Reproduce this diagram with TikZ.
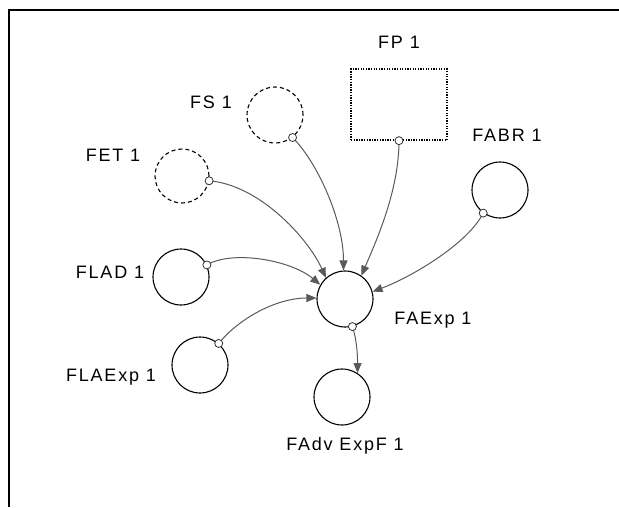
\documentclass[tikz,border=0pt]{standalone}
\usepackage{fontspec}
\setmainfont{Liberation Sans}[LetterSpace=10]
\usetikzlibrary{arrows.meta}
\definecolor{linkgray}{HTML}{5A5A5A}
\tikzset{
  var/.style={circle, draw=black, line width=1.1pt, minimum size=56pt, inner sep=0pt},
  ghost/.style={var, dash pattern=on 4pt off 3pt},
  param/.style={draw=black, line width=1.3pt, dash pattern=on 1.3pt off 1.3pt, minimum width=96pt, minimum height=71pt, inner sep=0pt},
  lbl/.style={font=\fontsize{18}{20}\selectfont, inner sep=0pt},
  handle/.style={circle, draw=black!80, fill=white, line width=0.8pt, minimum size=8pt, inner sep=0pt},
  link/.style={draw=linkgray, line width=1pt, -{Triangle[length=10pt,width=8pt]}, fill=none},
  frame/.style={line width=1.5pt, draw=black}
}
\begin{document}
\begin{tikzpicture}[x=1pt,y=-1pt]
\useasboundingbox (0,0) rectangle (619,507);
% frame
\coordinate (fbl) at (9,507);
\coordinate (ftl) at (9,10);
\coordinate (ftr) at (619,10);
\draw[frame] (fbl) -- (ftl) -- (ftr);
% nodes
\node[param] (FP) at (399,104.5) {};
\node[ghost] (FS) at (275,115) {};
\node[ghost, minimum size=54pt] (FET) at (182,176) {};
\node[var] (FABR) at (500,190) {};
\node[var] (FLAD) at (181,277) {};
\node[var] (FAExp) at (345,299) {};
\node[var] (FLAExp) at (200,365) {};
\node[var] (FAdv) at (342,397) {};
% labels
\node[lbl] (lFP) at (399,42) {FP 1};
\node[lbl] (lFS) at (211,102) {FS 1};
\node[lbl] (lFET) at (113,155) {FET 1};
\node[lbl] (lFABR) at (507,135) {FABR 1};
\node[lbl] (lFLAD) at (110,272) {FLAD 1};
\node[lbl] (lFAExp) at (433,320) {FAExp 1};
\node[lbl] (lFLAExp) at (111,377) {FLAExp 1};
\node[lbl] (lFAdv) at (345,446) {FAdv ExpF 1};
% handle points
\coordinate (hFP) at (FP.south);
\coordinate (hFS) at (FS.-52);
\coordinate (hFET) at (FET.-10);
\coordinate (hFABR) at (FABR.-126);
\coordinate (hFLAD) at (FLAD.25);
\coordinate (hFLAExp) at (FLAExp.49);
\coordinate (hFAExp) at (FAExp.-75);
% links
\draw[link] (hFET) .. controls +(50,4) and +(-18,-40) .. (FAExp.132);
\draw[link] (hFS) .. controls +(25,25) and +(0,-50) .. (FAExp.93);
\draw[link] (hFP) .. controls +(0,50) and +(15,-35) .. (FAExp.55);
\draw[link] (hFABR) .. controls +(-15,30) and +(40,-15) .. (FAExp.15);
\draw[link] (hFLAD) .. controls +(25,-15) and +(-30,-25) .. (FAExp.150);
\draw[link] (hFLAExp) .. controls +(20,-25) and +(-40,0) .. (FAExp.178);
\draw[link] (hFAExp) .. controls +(5,15) and +(0,-15) .. (FAdv.57);
% handles
\node[handle] (cFP) at (hFP) {};
\node[handle] (cFS) at (hFS) {};
\node[handle] (cFET) at (hFET) {};
\node[handle] (cFABR) at (hFABR) {};
\node[handle] (cFLAD) at (hFLAD) {};
\node[handle] (cFLAExp) at (hFLAExp) {};
\node[handle] (cFAExp) at (hFAExp) {};
\end{tikzpicture}
\end{document}
